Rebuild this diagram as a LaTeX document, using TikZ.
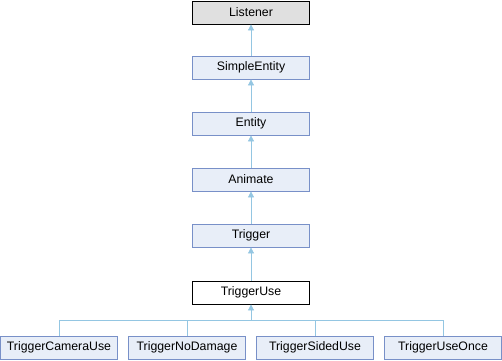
\documentclass[tikz,border=0pt]{standalone}
\usepackage{fontspec}
\setmainfont{Liberation Sans}
\usetikzlibrary{arrows.meta}
\definecolor{boxfill}{HTML}{E8EEF8}
\definecolor{boxline}{HTML}{7890C8}
\definecolor{edgecol}{HTML}{94C6E2}
\definecolor{greyfill}{HTML}{E0E0E0}
\tikzset{
  cls/.style={draw=boxline, fill=boxfill, minimum width=117pt, minimum height=23pt, inner sep=0pt, font=\fontsize{12.3}{13}\selectfont, line width=0.8pt},
  edge/.style={draw=edgecol, line width=0.8pt, -{Triangle[length=6pt,width=6pt,fill=edgecol]}},
}
\begin{document}
\begin{tikzpicture}[x=1pt,y=-1pt]
\useasboundingbox (0,0) rectangle (502,360);
\node[cls, draw=black, fill=greyfill] (listener) at (251,12.5) {Listener};
\node[cls] (simple) at (251,67.5) {SimpleEntity};
\node[cls] (entity) at (251,123.5) {Entity};
\node[cls] (animate) at (251,179.5) {Animate};
\node[cls] (trigger) at (251,235.5) {Trigger};
\node[cls, draw=black, fill=white] (tu) at (251,292.5) {TriggerUse};
\node[cls] (cam) at (59,347.5) {TriggerCameraUse};
\node[cls] (nod) at (187,347.5) {TriggerNoDamage};
\node[cls] (sid) at (315,347.5) {TriggerSidedUse};
\node[cls] (once) at (443,347.5) {TriggerUseOnce};
\coordinate (j) at (251,320);
\draw[edge] (simple.north) -- (listener.south);
\draw[edge] (entity.north) -- (simple.south);
\draw[edge] (animate.north) -- (entity.south);
\draw[edge] (trigger.north) -- (animate.south);
\draw[edge] (tu.north) -- (trigger.south);
\foreach \c in {cam,nod,sid,once}{
  \draw[draw=edgecol, line width=0.8pt] (\c.north) |- (j);
}
\draw[edge] (j) -- (tu.south);
\end{tikzpicture}
\end{document}
